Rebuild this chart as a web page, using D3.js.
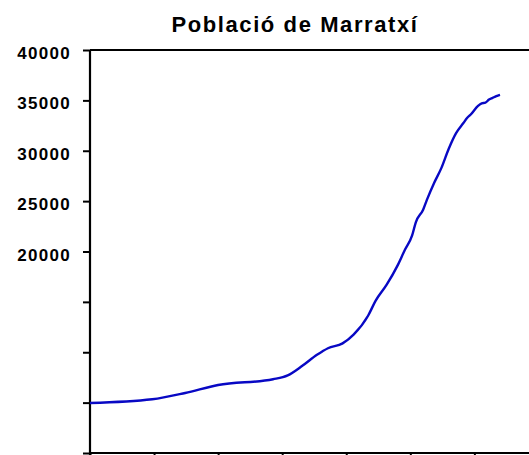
<!DOCTYPE html>
<html>
<head>
<meta charset="utf-8">
<script src="https://cdn.jsdelivr.net/npm/d3@7/dist/d3.min.js"></script>
<style>
  html, body { margin: 0; padding: 0; background: #fff; }
  svg { display: block; }
  text { font-family: "Liberation Sans", Arial, sans-serif; font-weight: bold; fill: #000; }
</style>
</head>
<body>
<script>
const title = "Població de Marratxí";
const years = [1900, 1917, 1926, 1935, 1950, 1954, 1958, 1962, 1965, 1969, 1972, 1976, 1978, 1981, 1984, 1986, 1988, 1989, 1991, 1992, 1994, 1996, 1998, 2000, 2002, 2003, 2004, 2006, 2007, 2008, 2009, 2010, 2011, 2012];
const population = [4960, 5330, 5960, 6750, 7320, 7700, 8650, 9740, 10400, 10880, 11750, 13650, 15100, 16680, 18600, 20150, 21600, 22900, 24150, 25100, 26800, 28300, 30200, 31750, 32750, 33250, 33600, 34450, 34700, 34770, 35080, 35250, 35420, 35540];
const yTicks = [0, 5000, 10000, 15000, 20000, 25000, 30000, 35000, 40000];
const yTickLabels = ["", "", "", "", "20000", "25000", "30000", "35000", "40000"];
const xTicks = [1900, 1917.5, 1935, 1952.5, 1970, 1987.5, 2005, 2022.5];

const W = 529, H = 455;
const mLeft = 90, mTop = 50, mBottom = 453;

const svg = d3.select("body").append("svg").attr("width", W).attr("height", H);

const x = d3.scaleLinear().domain([1900, 2012]).range([mLeft, 500]);
const y = d3.scaleLinear().domain([0, 40000]).range([mBottom, mTop]);

svg.append("text")
  .attr("x", 295).attr("y", 32)
  .attr("text-anchor", "middle")
  .style("font-size", "22px")
  .style("letter-spacing", "1.6px")
  .text(title);

// top border
svg.append("line")
  .attr("x1", mLeft).attr("x2", W + 5)
  .attr("y1", y(40000)).attr("y2", y(40000))
  .attr("stroke", "#000").attr("stroke-width", 2);

// y axis
const yAxis = svg.append("g").attr("transform", `translate(${mLeft},0)`)
  .call(d3.axisLeft(y).tickValues(yTicks).tickSize(7).tickPadding(12)
    .tickFormat((d, i) => yTickLabels[i]));
yAxis.select(".domain").attr("stroke", "#000").attr("stroke-width", 2.2)
  .attr("d", `M0,${y(40000)}V${mBottom + 3}`);
yAxis.selectAll(".tick line").attr("stroke", "#000").attr("stroke-width", 2);
yAxis.selectAll(".tick text")
  .style("font-family", "'Liberation Sans', Arial, sans-serif")
  .style("font-weight", "bold")
  .style("font-size", "17px")
  .style("letter-spacing", "1.3px")
  .attr("fill", "#000")
  .attr("dy", "0.5em");

// x axis
const xAxis = svg.append("g").attr("transform", `translate(0,${mBottom})`)
  .call(d3.axisBottom(x).tickValues(xTicks).tickSize(6).tickFormat(""));
xAxis.select(".domain").attr("stroke", "#000").attr("stroke-width", 2.2)
  .attr("d", `M${mLeft},0H${W + 5}`);
xAxis.selectAll(".tick line").attr("stroke", "#000").attr("stroke-width", 2);

const line = d3.line()
  .x((d, i) => x(years[i]))
  .y(d => y(d))
  .curve(d3.curveMonotoneX);

svg.append("path")
  .datum(population)
  .attr("d", line)
  .attr("fill", "none")
  .attr("stroke", "#0808c4")
  .attr("stroke-width", 2.4)
  .attr("stroke-linejoin", "round");
</script>
</body>
</html>
